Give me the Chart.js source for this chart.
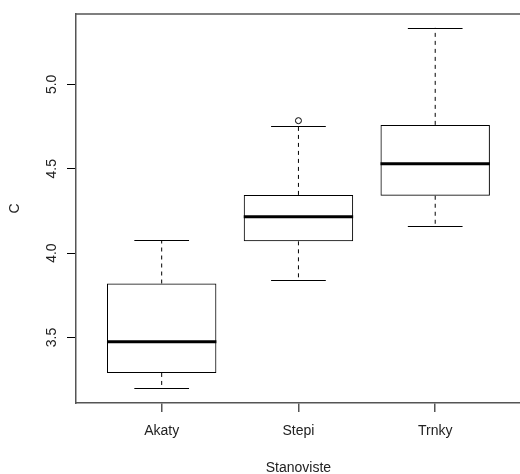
<!DOCTYPE html>
<html>
<head>
<meta charset="utf-8">
<script src="https://cdn.jsdelivr.net/npm/chart.js@4"></script>
<style>
  html, body { margin: 0; padding: 0; background: #fff; overflow: hidden; }
  canvas { display: block; }
</style>
</head>
<body>
<canvas id="boxChart" width="520" height="474"></canvas>
<script>
// boxplot of C by Stanoviste
const categories = ['Akaty', 'Stepi', 'Trnky'];
const lowWhisker = [3.20, 3.84, 4.16];
const q1 = [3.29, 4.07, 4.34];
const median = [3.475, 4.215, 4.53];
const q3 = [3.82, 4.345, 4.76];
const highWhisker = [4.075, 4.755, 5.335];
const outlierGroup = [2];
const outlierValue = [4.785];
const yTicks = [3.5, 4.0, 4.5, 5.0];
const xTicks = [1, 2, 3];

const font = "'Liberation Sans', Arial, sans-serif";
const textColor = '#222';
const lineColor = '#555';

const boxData = categories.map((c, i) => ({ x: i + 1, y: [q1[i], q3[i]] }));
const outlierData = outlierGroup.map((g, i) => ({ x: g, y: outlierValue[i] }));

const boxExtras = {
    id: 'boxExtras',
    afterDatasetsDraw(chart) {
        const ctx = chart.ctx;
        const x = chart.scales.x, y = chart.scales.y;
        const meta = chart.getDatasetMeta(0);
        ctx.save();
        meta.data.forEach((bar, i) => {
            const cx = x.getPixelForValue(i + 1);
            const half = bar.width / 2;
            // whiskers
            ctx.strokeStyle = '#000';
            ctx.lineWidth = 1;
            ctx.setLineDash([4, 4]);
            ctx.beginPath();
            ctx.moveTo(cx, y.getPixelForValue(q3[i]));
            ctx.lineTo(cx, y.getPixelForValue(highWhisker[i]));
            ctx.moveTo(cx, y.getPixelForValue(q1[i]));
            ctx.lineTo(cx, y.getPixelForValue(lowWhisker[i]));
            ctx.stroke();
            ctx.setLineDash([]);
            // staples
            ctx.beginPath();
            [highWhisker[i], lowWhisker[i]].forEach(v => {
                const py = Math.round(y.getPixelForValue(v)) + 0.5;
                ctx.moveTo(cx - half / 2, py);
                ctx.lineTo(cx + half / 2, py);
            });
            ctx.stroke();
            // median
            ctx.lineWidth = 3;
            ctx.beginPath();
            const my = y.getPixelForValue(median[i]);
            ctx.moveTo(cx - half, my);
            ctx.lineTo(cx + half, my);
            ctx.stroke();
        });
        // frame top
        const a = chart.chartArea;
        ctx.strokeStyle = lineColor;
        ctx.lineWidth = 1.5;
        ctx.beginPath();
        ctx.moveTo(a.left, a.top);
        ctx.lineTo(a.right, a.top);
        ctx.stroke();
        // axis titles
        ctx.fillStyle = textColor;
        ctx.font = '14px ' + font;
        ctx.textAlign = 'center';
        ctx.textBaseline = 'middle';
        ctx.fillText('Stanoviste', x.getPixelForValue(2), 468);
        ctx.translate(15, (a.top + a.bottom) / 2);
        ctx.rotate(-Math.PI / 2);
        ctx.fillText('C', 0, 0);
        ctx.restore();
    }
};

new Chart(document.getElementById('boxChart').getContext('2d'), {
    type: 'bar',
    data: {
        datasets: [
            {
                type: 'bar',
                data: boxData,
                backgroundColor: 'rgba(255,255,255,0)',
                borderColor: '#000',
                borderWidth: 1,
                borderSkipped: false,
                categoryPercentage: 1,
                barPercentage: 0.8
            },
            {
                type: 'scatter',
                data: outlierData,
                pointRadius: 3,
                pointBackgroundColor: '#fff',
                pointBorderColor: '#000',
                pointBorderWidth: 1
            }
        ]
    },
    options: {
        responsive: false,
        animation: false,
        layout: { autoPadding: false, padding: { top: 14, right: 0, bottom: 0, left: 0 } },
        plugins: { legend: { display: false }, tooltip: { enabled: false } },
        scales: {
            x: {
                type: 'linear',
                offset: false,
                min: 0.3735,
                max: 3.62,
                afterBuildTicks: s => { s.ticks = xTicks.map(v => ({ value: v })); },
                afterFit: s => { s.height = 71; s.paddingLeft = 0; s.paddingRight = 0; },
                grid: { offset: false, drawOnChartArea: false, drawTicks: true, tickLength: 9, color: lineColor, lineWidth: 1.5 },
                border: { display: true, color: lineColor, width: 1.5 },
                ticks: {
                    autoSkip: false,
                    maxRotation: 0,
                    padding: 11,
                    color: textColor,
                    font: { family: font, size: 14 },
                    callback: v => categories[v - 1]
                }
            },
            y: {
                type: 'linear',
                min: 3.112,
                max: 5.417,
                afterBuildTicks: s => { s.ticks = yTicks.map(v => ({ value: v })); },
                afterFit: s => { s.width = 76; s.paddingTop = 0; s.paddingBottom = 0; },
                grid: { drawOnChartArea: false, drawTicks: true, tickLength: 9, color: '#000', lineWidth: 1 },
                border: { display: true, color: lineColor, width: 1.5 },
                ticks: {
                    minRotation: 90,
                    maxRotation: 90,
                    crossAlign: 'center',
                    padding: 5,
                    color: textColor,
                    font: { family: font, size: 14 },
                    callback: v => v.toFixed(1)
                }
            }
        }
    },
    plugins: [boxExtras]
});
</script>
</body>
</html>
